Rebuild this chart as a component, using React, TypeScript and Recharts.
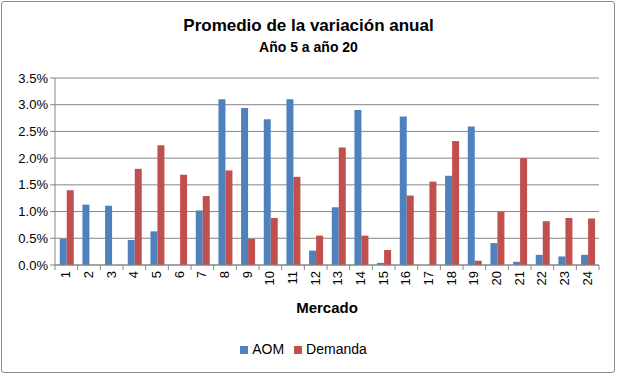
import React from "react";
import { BarChart, Bar, XAxis, YAxis, CartesianGrid, Legend } from "recharts";

const mercados = ["1","2","3","4","5","6","7","8","9","10","11","12","13","14","15","16","17","18","19","20","21","22","23","24"];
const aom = [0.49,1.13,1.11,0.47,0.63,0,1.02,3.10,2.94,2.73,3.10,0.27,1.08,2.90,0.04,2.78,0,1.67,2.59,0.41,0.06,0.19,0.16,0.19];
const demanda = [1.40,0,0,1.80,2.24,1.69,1.29,1.77,0.49,0.88,1.65,0.55,2.20,0.55,0.28,1.30,1.56,2.32,0.08,1.00,2.00,0.82,0.88,0.87];
const yTicks = [0,0.5,1,1.5,2,2.5,3,3.5];

const data = mercados.map((m, i) => ({ mercado: m, AOM: aom[i], Demanda: demanda[i] }));

const FONT = "'Liberation Sans', Arial, sans-serif";
const HALF_BAND = 544 / 24 / 2;

const XTick = (props: any) => {
  const { x, y, payload, index } = props;
  return (
    <g>
      <line x1={x - HALF_BAND} x2={x - HALF_BAND} y1={y - 8} y2={y - 3} stroke="#868686" />
      {index === mercados.length - 1 && (
        <line x1={x + HALF_BAND} x2={x + HALF_BAND} y1={y - 8} y2={y - 3} stroke="#868686" />
      )}
      <text
        x={0}
        y={0}
        transform={`translate(${x + 4},${y - 2}) rotate(-90)`}
        textAnchor="end"
        fontSize={13}
        fontFamily={FONT}
        fill="#000"
      >
        {payload.value}
      </text>
    </g>
  );
};

export default function App() {
  return (
    <div style={{ position: "absolute", left: 0, top: 0, width: 617, height: 377, background: "#fff", fontFamily: FONT }}>
      <div style={{ position: "absolute", left: 1, top: 1, width: 612, height: 370, border: "1px solid #8c8c8c", borderRadius: 3 }} />
      <div style={{ position: "absolute", left: 0, width: 617, top: 16, textAlign: "center", fontWeight: "bold", fontSize: 17, color: "#000" }}>
        Promedio de la variación anual
      </div>
      <div style={{ position: "absolute", left: 0, width: 617, top: 39, textAlign: "center", fontWeight: "bold", fontSize: 14, color: "#000" }}>
        Año 5 a año 20
      </div>
      <div style={{ position: "absolute", left: 55, width: 544, top: 299, textAlign: "center", fontWeight: "bold", fontSize: 15, color: "#000" }}>
        Mercado
      </div>
      <BarChart
        width={617}
        height={377}
        data={data}
        margin={{ top: 78, right: 18, left: 0, bottom: 111 }}
        barCategoryGap="21%"
        barGap={0}
      >
        <CartesianGrid vertical={false} stroke="#868686" />
        <XAxis
          dataKey="mercado"
          height={1}
          interval={0}
          tickLine={false}
          axisLine={{ stroke: "#868686" }}
          tick={<XTick />}
        />
        <YAxis
          width={55}
          domain={[0, 3.5]}
          ticks={yTicks}
          tickFormatter={(v: number) => v.toFixed(1) + "%"}
          tick={{ fontSize: 13, fill: "#000", fontFamily: FONT }}
          axisLine={{ stroke: "#868686" }}
          tickLine={{ stroke: "#868686" }}
          tickSize={5}
        />
        <Legend
          verticalAlign="middle"
          align="center"
          layout="horizontal"
          iconType="square"
          iconSize={8}
          wrapperStyle={{ top: 341, left: 0, width: 617, fontSize: 14, fontFamily: FONT }}
          formatter={(value: string) => <span style={{ color: "#000" }}>{value}</span>}
        />
        <Bar dataKey="AOM" fill="#4F81BD" isAnimationActive={false} />
        <Bar dataKey="Demanda" fill="#C0504D" isAnimationActive={false} />
      </BarChart>
    </div>
  );
}
